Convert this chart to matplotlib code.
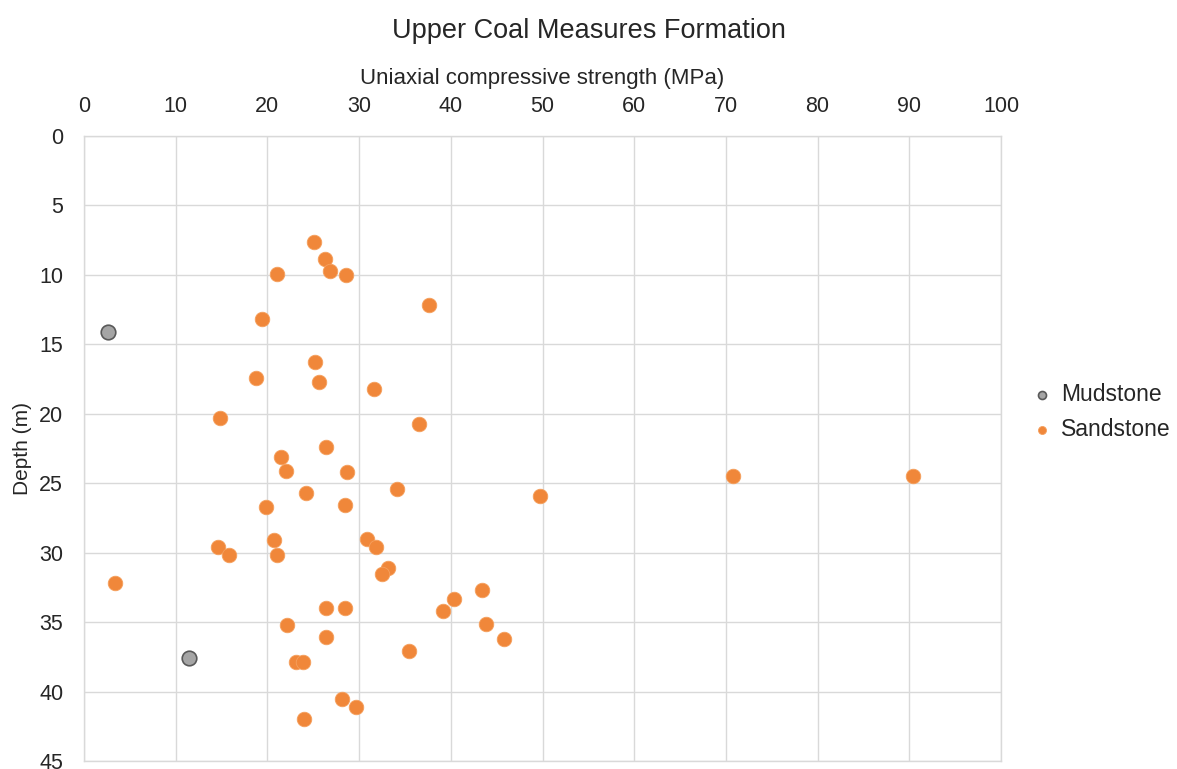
import matplotlib.pyplot as plt

plt.rcParams['font.family'] = ['Liberation Sans', 'DejaVu Sans']

# Mudstone samples (UCS MPa, depth m)
mud_ucs = [2.65, 11.4]
mud_depth = [14.1, 37.6]

# Sandstone samples (UCS MPa, depth m)
sand_ucs = [25.1, 26.3, 26.8, 21.1, 28.6, 37.6, 19.4, 25.2, 18.8, 25.6,
            31.6, 14.8, 36.5, 26.4, 21.5, 22.0, 28.7, 34.1, 24.2, 19.9,
            28.5, 49.7, 70.8, 90.4, 20.75, 30.9, 14.6, 31.8, 15.8, 21.0,
            33.2, 32.5, 3.4, 43.4, 40.3, 39.1, 26.4, 28.5, 43.8, 22.1,
            45.8, 26.4, 35.4, 23.1, 23.9, 28.1, 29.7, 24.0]
sand_depth = [7.6, 8.87, 9.69, 9.93, 10.0, 12.16, 13.2, 16.3, 17.4, 17.7,
              18.2, 20.3, 20.7, 22.4, 23.1, 24.1, 24.2, 25.4, 25.7, 26.7,
              26.6, 25.9, 24.5, 24.5, 29.1, 29.0, 29.6, 29.6, 30.2, 30.2,
              31.1, 31.5, 32.2, 32.7, 33.3, 34.2, 34.0, 34.0, 35.1, 35.2,
              36.2, 36.1, 37.1, 37.9, 37.9, 40.5, 41.1, 42.0]

xticks = list(range(0, 101, 10))
yticks = list(range(0, 46, 5))

txt = '#262626'

fig = plt.figure(figsize=(11.77, 7.69), dpi=100)
ax = fig.add_axes([84 / 1177, 1 - 761 / 769, 917 / 1177, 625 / 769])

ax.scatter(mud_ucs, mud_depth, s=110, color='#A5A5A5', edgecolors='#595959',
           linewidths=1.2, label='Mudstone', zorder=3)
ax.scatter(sand_ucs, sand_depth, s=110, color='#F0873A', edgecolors='#F5A05E',
           linewidths=0.6, label='Sandstone', zorder=3)

ax.set_xlim(0, 100)
ax.set_ylim(45, 0)
ax.set_xticks(xticks)
ax.set_yticks(yticks)
ax.xaxis.tick_top()
ax.xaxis.set_label_position('top')
ax.tick_params(length=0, labelsize=15.5, colors=txt)
ax.tick_params(axis='x', pad=14)
ax.tick_params(axis='y', pad=15)
ax.grid(True, color='#D9D9D9', linewidth=1)
ax.set_axisbelow(True)
for sp in ax.spines.values():
    sp.set_color('#D9D9D9')
    sp.set_linewidth(1)

ax.set_xlabel('Uniaxial compressive strength (MPa)', fontsize=16,
              color=txt, labelpad=8)
ax.set_ylabel('Depth (m)', fontsize=15, color=txt, labelpad=5)
fig.text(0.5, 1 - 31 / 769, 'Upper Coal Measures Formation', ha='center',
         va='center', fontsize=19.5, color=txt)

fig.legend(loc='center left', bbox_to_anchor=(1031 / 1177, 1 - 412 / 769),
           frameon=False, fontsize=16.5, markerscale=0.55, borderpad=0,
           borderaxespad=0, handlelength=1, handletextpad=0.3,
           labelspacing=0.5, labelcolor=txt)

fig.savefig('out.png', dpi=100)
